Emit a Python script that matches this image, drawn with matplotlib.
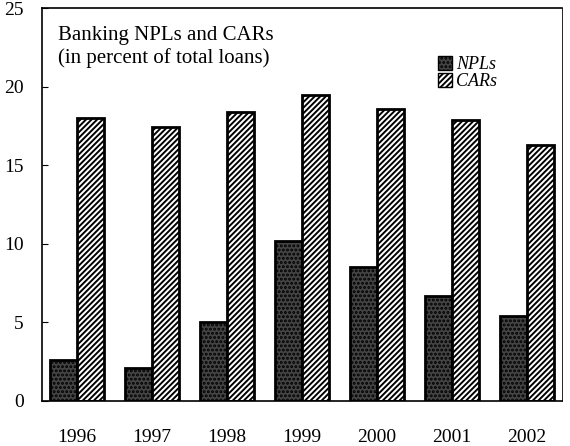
import numpy as np
import matplotlib
matplotlib.use('Agg')
import matplotlib.pyplot as plt
from matplotlib.patches import Patch

years = ['1996', '1997', '1998', '1999', '2000', '2001', '2002']
npls = [2.6, 2.1, 5.0, 10.2, 8.5, 6.7, 5.4]
cars = [18.0, 17.4, 18.4, 19.45, 18.6, 17.9, 16.3]

plt.rcParams['font.family'] = 'Liberation Serif'
plt.rcParams['hatch.linewidth'] = 1.4

fig = plt.figure(figsize=(5.7, 4.46), dpi=100)
ax = fig.add_axes([0.0737, 0.101, 0.912, 0.881])

x = np.arange(len(years))
w = 0.36
ax.bar(x - w / 2, npls, w, facecolor='#444444', edgecolor='black',
       linewidth=2, hatch='....')
ax.bar(x + w / 2, cars, w, facecolor='white', edgecolor='black',
       linewidth=2, hatch='//////')

ax.set_xlim(-0.467, 6.47)
ax.set_ylim(0, 25)
ax.set_yticks([0, 5, 10, 15, 20, 25])
ax.set_xticks(x)
ax.set_xticklabels(years, fontsize=14)
ax.tick_params(axis='x', length=0, pad=20)
ax.tick_params(axis='y', direction='in', length=4, labelsize=14, pad=13)
for s in ['left', 'bottom', 'top']:
    ax.spines[s].set_linewidth(1.2)
ax.spines['right'].set_linewidth(0.6)

ax.text(0.031, 0.955, 'Banking NPLs and CARs\n(in percent of total loans)',
        transform=ax.transAxes, ha='left', va='top', fontsize=15,
        linespacing=1.25)

handles = [Patch(facecolor='#444444', edgecolor='black', hatch='....', label='NPLs'),
           Patch(facecolor='white', edgecolor='black', hatch='//////', label='CARs')]
leg = ax.legend(handles=handles, loc='upper left', bbox_to_anchor=(0.745, 0.90),
                frameon=False, prop={'style': 'italic', 'size': 13},
                handlelength=0.75, handleheight=0.75, handletextpad=0.25,
                labelspacing=0.0, borderpad=0)

fig.savefig('out.png', dpi=100)
